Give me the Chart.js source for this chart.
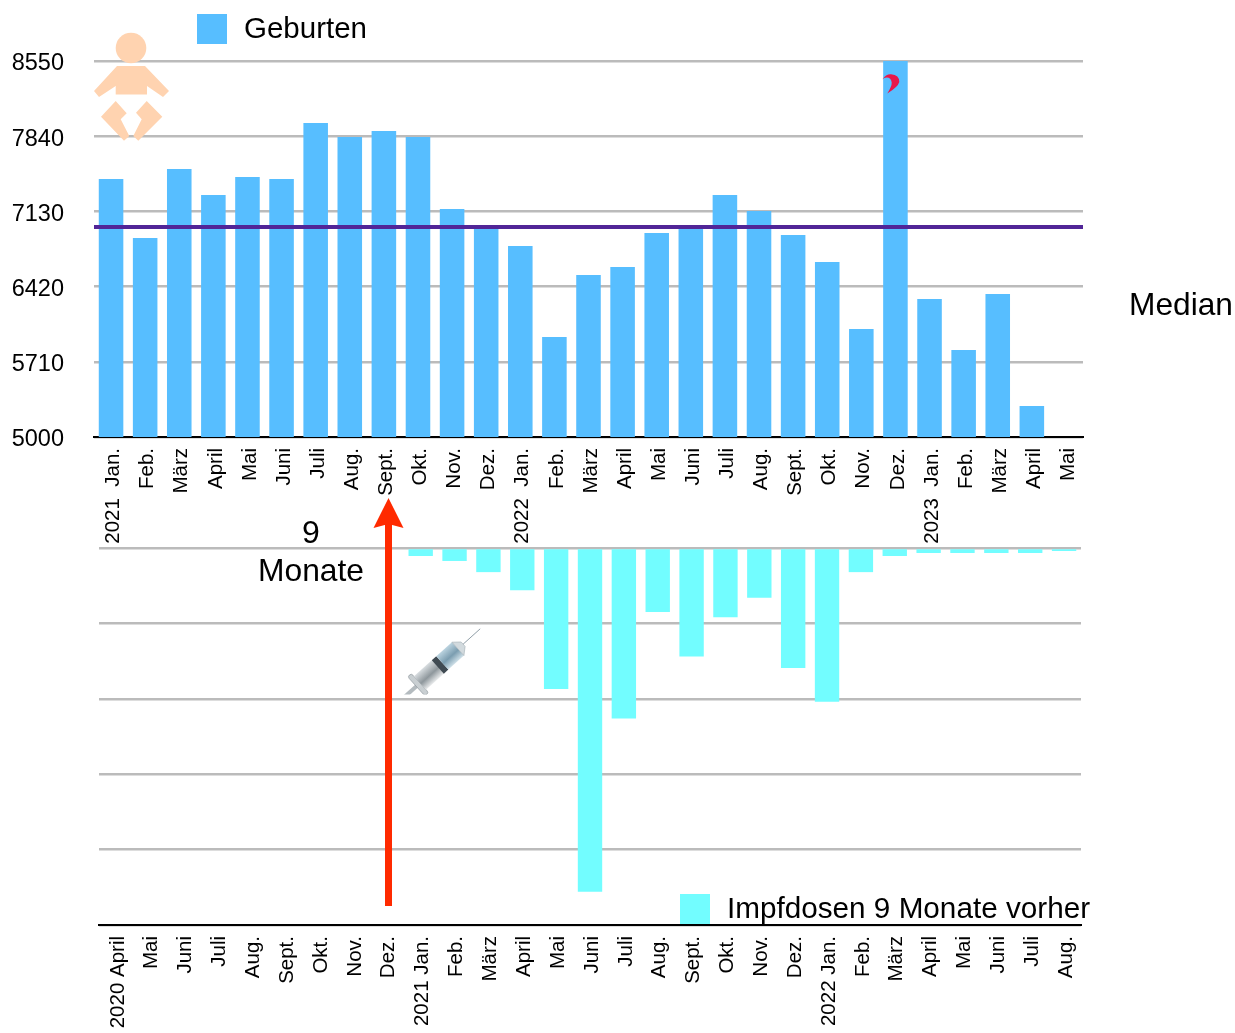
<!DOCTYPE html>
<html>
<head>
<meta charset="utf-8">
<title>Geburten und Impfdosen</title>
<script src="https://cdn.jsdelivr.net/npm/chart.js@4"></script>
<style>
    body { margin: 0; background: #fff; font-family: "Liberation Sans", sans-serif; color: #000; }
    #page { position: relative; width: 1235px; height: 1033px; overflow: hidden; }
    canvas { position: absolute; left: 0; }
    #birthsChart { top: 0; }
    #dosesChart { top: 530px; }
    .label { position: absolute; white-space: nowrap; line-height: 1; }
    .swatch { position: absolute; width: 30px; height: 30px; }
    svg { position: absolute; left: 0; top: 0; }
</style>
</head>
<body>
<div id="page">
    <canvas id="birthsChart" width="1235" height="548"></canvas>
    <canvas id="dosesChart" width="1235" height="503"></canvas>

    <svg width="1235" height="1033" viewBox="0 0 1235 1033">
        <defs>
            <linearGradient id="barrel" x1="0" y1="0" x2="0" y2="1">
                <stop offset="0" stop-color="#d8dde0"/>
                <stop offset="0.55" stop-color="#8e979c"/>
                <stop offset="1" stop-color="#e8eaeb"/>
            </linearGradient>
            <linearGradient id="fluid" x1="0" y1="0" x2="0" y2="1">
                <stop offset="0" stop-color="#bcd4e0"/>
                <stop offset="0.55" stop-color="#7b9db0"/>
                <stop offset="1" stop-color="#cfe0e8"/>
            </linearGradient>
            <clipPath id="syringeClip"><rect x="395" y="620" width="90" height="74.5"/></clipPath>
        </defs>

        <!-- baby -->
        <g fill="#FFD3B0">
            <circle cx="131" cy="48" r="15.3"/>
            <polygon points="117,66 145,66 169,91 163,97 147,86 147,94.5 115.7,94.5 115.7,86 99,97 94,91"/>
            <polygon points="115.7,101 126.7,113.3 120.7,119.3 129.3,136 124,140.7 101,116.7"/>
            <polygon points="146.7,101 162.3,116.7 138.3,140.7 133.3,136 141.7,119.3 136,112.7"/>
        </g>

        <!-- question mark on the peak bar -->
        <path fill="#E8174A" d="M882.3 79.5 Q886 74 891 74.3 Q899.5 75 899.3 82 Q898 87 887.3 93.5 Q892 86 891.7 82.5 Q891 77.5 886.7 77.5 Q884 77.5 882.3 79.5Z"/>

        <!-- arrow -->
        <rect x="385" y="524" width="7" height="382" fill="#FF2A00"/>
        <polygon points="388.5,498 403.5,528 388.5,524 373.5,528" fill="#FF2A00"/>

        <!-- syringe -->
        <g clip-path="url(#syringeClip)">
            <g transform="translate(420,683) rotate(-42)">
                <rect x="-28" y="-2" width="24" height="4" fill="#b4bbbf"/>
                <rect x="-5" y="-13" width="5" height="26" rx="2.5" fill="#c9cfd2" stroke="#8d969b" stroke-width="0.6"/>
                <rect x="0" y="-9" width="25" height="18" fill="url(#barrel)"/>
                <rect x="24" y="-9" width="6" height="18" fill="#3f4a52"/>
                <rect x="30" y="-9" width="21" height="18" fill="url(#fluid)"/>
                <polygon points="51,-9 58,-3 58,3 51,9" fill="#d2dade" stroke="#9aa6ad" stroke-width="0.5"/>
                <line x1="58" y1="0" x2="81" y2="0" stroke="#7e8e99" stroke-width="0.8"/>
            </g>
        </g>
    </svg>

    <div class="swatch" style="left:197px;top:14px;background:#57BEFF"></div>
    <div class="label" style="left:244px;top:13px;font-size:29.5px">Geburten</div>
    <div class="label" style="left:1129px;top:289px;font-size:31.7px">Median</div>
    <div class="label" style="left:302px;top:516px;font-size:32px">9</div>
    <div class="label" style="left:258px;top:555px;font-size:31.8px">Monate</div>
    <div class="swatch" style="left:680px;top:894px;background:#72FDFF"></div>
    <div class="label" style="left:727px;top:893px;font-size:29.7px">Impfdosen 9 Monate vorher</div>
</div>

<script>
// Births per month
const birthLabels = [
    '2021  Jan.', 'Feb.', 'März', 'April', 'Mai', 'Juni', 'Juli', 'Aug.', 'Sept.', 'Okt.', 'Nov.', 'Dez.',
    '2022  Jan.', 'Feb.', 'März', 'April', 'Mai', 'Juni', 'Juli', 'Aug.', 'Sept.', 'Okt.', 'Nov.', 'Dez.',
    '2023  Jan.', 'Feb.', 'März', 'April', 'Mai'
];
const birthValues = [
    7436, 6879, 7530, 7285, 7454, 7436, 7964, 7832, 7889, 7832, 7152, 6982,
    6803, 5944, 6529, 6605, 6926, 6982, 7285, 7133, 6907, 6652, 6020, 8550,
    6303, 5821, 6350, 5293, null
];
const birthMedian = 6982;
const medianLine = [{ x: 0, y: birthMedian }, { x: 1, y: birthMedian }];

// Vaccine doses, millions (no scale in the original, read from bar depth)
const doseLabels = [
    '2020 April', 'Mai', 'Juni', 'Juli', 'Aug.', 'Sept.', 'Okt.', 'Nov.', 'Dez.',
    '2021 Jan.', 'Feb.', 'März', 'April', 'Mai', 'Juni', 'Juli', 'Aug.', 'Sept.', 'Okt.', 'Nov.', 'Dez.',
    '2022 Jan.', 'Feb.', 'März', 'April', 'Mai', 'Juni', 'Juli', 'Aug.'
];
const doseValues = [
    null, null, null, null, null, null, null, null, null,
    0.53, 0.86, 1.6, 2.8, 9.35, 22.8, 11.3, 4.24, 7.2, 4.6, 3.3, 7.96,
    10.2, 1.6, 0.53, 0.33, 0.33, 0.33, 0.33, 0.2
];

const FONT = '"Liberation Sans", sans-serif';
const GRID = '#BBBBBB';

// The empty first line nudges a tick label by its line height (text sits a bit off otherwise)
function xAxis(height, nudge) {
    return {
        offset: true,
        afterFit: s => { s.height = height; },
        grid: { display: false },
        border: { color: '#000', width: 2 },
        ticks: {
            autoSkip: false,
            minRotation: 90,
            maxRotation: 90,
            padding: 3,
            color: '#000',
            font: { family: FONT, size: 20.5, lineHeight: nudge },
            callback: function (v) { return ['', this.getLabelForValue(v)]; }
        }
    };
}

new Chart(document.getElementById('birthsChart'), {
    type: 'bar',
    data: {
        labels: birthLabels,
        datasets: [
            { data: birthValues, backgroundColor: '#57BEFF', grouped: false, maxBarThickness: 25, order: 2 },
            {
                type: 'line', data: medianLine, xAxisID: 'xMedian', order: 1,
                borderColor: '#512597', borderWidth: 4, pointRadius: 0
            }
        ]
    },
    options: {
        responsive: false,
        animation: false,
        layout: { padding: { left: 0, top: 61, right: 152, bottom: 0 } },
        plugins: { legend: { display: false }, tooltip: { enabled: false } },
        scales: {
            x: xAxis(111, '2.5px'),
            xMedian: { type: 'linear', min: 0, max: 1, offset: false, display: false },
            y: {
                min: 5000,
                max: 8550,
                afterFit: s => { s.width = 94; },
                grid: { color: GRID, lineWidth: 2.5, drawTicks: false },
                border: { display: false },
                ticks: {
                    stepSize: 710,
                    padding: 30,
                    color: '#000',
                    font: { family: FONT, size: 23.5, lineHeight: '6px' },
                    callback: v => ['', String(v)]
                }
            }
        }
    }
});

new Chart(document.getElementById('dosesChart'), {
    type: 'bar',
    data: {
        labels: doseLabels,
        datasets: [{ data: doseValues, backgroundColor: '#72FDFF', grouped: false, maxBarThickness: 25 }]
    },
    options: {
        responsive: false,
        animation: false,
        layout: { padding: { left: 0, top: 18, right: 154, bottom: 0 } },
        plugins: { legend: { display: false }, tooltip: { enabled: false } },
        scales: {
            x: xAxis(108, '2px'),
            y: {
                min: 0,
                max: 25,
                reverse: true,
                afterFit: s => { s.width = 99; },
                grid: { color: GRID, lineWidth: 2.5, drawTicks: false },
                border: { display: false },
                ticks: { display: false, stepSize: 5 }
            }
        }
    }
});
</script>
</body>
</html>
